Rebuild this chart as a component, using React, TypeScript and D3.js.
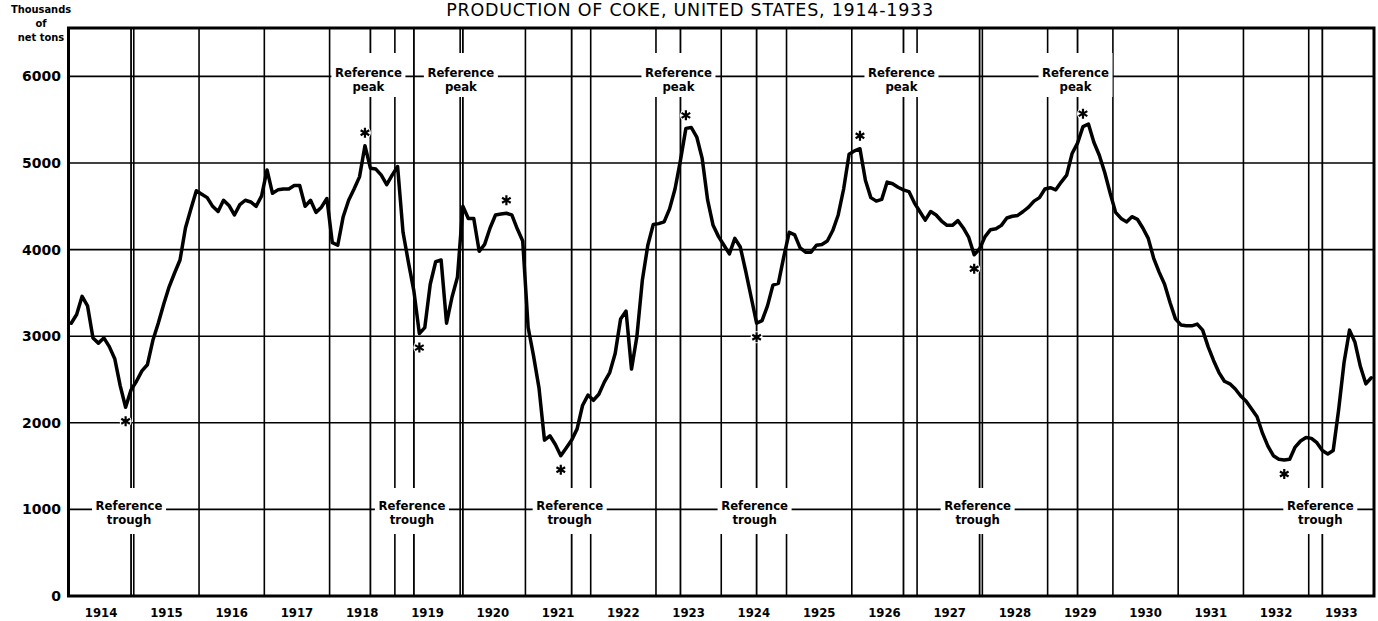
import React from "react";
import * as d3 from "d3";

// ---------- data ----------
const title = "PRODUCTION OF COKE, UNITED STATES, 1914-1933";
const yAxisTitle = ["Thousands", "of", "net tons"];
const yearLabels = d3.range(1914, 1934);
const yTickValues = [0, 1000, 2000, 3000, 4000, 5000, 6000];

// monthly production, thousands of net tons
const production1914to1918 = [
  3150, 3250, 3460, 3350, 2980, 2920, 2980, 2880, 2740, 2430, 2180, 2380,
  2480, 2600, 2670, 2950, 3150, 3370, 3570, 3730, 3880, 4250, 4470, 4680,
  4640, 4600, 4500, 4440, 4570, 4510, 4400, 4520, 4570, 4550, 4500, 4620,
  4920, 4650, 4690, 4700, 4700, 4740, 4740, 4500, 4570, 4430, 4490, 4590,
  4080, 4050, 4380, 4570, 4700, 4840, 5200, 4940, 4930, 4860, 4750, 4860,
];
const production1919to1923 = [
  4960, 4200, 3850, 3520, 3030, 3100, 3600, 3860, 3880, 3150, 3450, 3680,
  4500, 4360, 4360, 3980, 4060, 4250, 4400, 4410, 4420, 4400, 4240, 4100,
  3100, 2770, 2400, 1800, 1850, 1750, 1620, 1710, 1800, 1930, 2200, 2320,
  2260, 2330, 2470, 2580, 2800, 3200, 3290, 2620, 3000, 3650, 4050, 4290,
  4300, 4320, 4470, 4700, 5030, 5400, 5410, 5300, 5050, 4570, 4280, 4150,
];
const production1924to1928 = [
  4050, 3950, 4130, 4030, 3750, 3450, 3150, 3180, 3350, 3590, 3610, 3920,
  4200, 4170, 4020, 3970, 3970, 4050, 4060, 4100, 4220, 4400, 4700, 5100,
  5140, 5165, 4800, 4600, 4560, 4580, 4780, 4760, 4720, 4690, 4670, 4540,
  4440, 4340, 4440, 4400, 4330, 4280, 4280, 4335, 4250, 4140, 3940, 4010,
  4150, 4230, 4240, 4280, 4365, 4385, 4395, 4440, 4490, 4560, 4600, 4700,
];
const production1929to1933 = [
  4715, 4690, 4780, 4860, 5110, 5230, 5420, 5450, 5240, 5090, 4890, 4650,
  4430, 4360, 4320, 4380, 4350, 4250, 4130, 3900, 3740, 3600, 3390, 3200,
  3130, 3120, 3120, 3140, 3070, 2880, 2720, 2580, 2480, 2450, 2390, 2310,
  2250, 2160, 2070, 1880, 1730, 1620, 1580, 1570, 1580, 1720, 1790, 1830,
  1820, 1770, 1680, 1640, 1680, 2150, 2700, 3070, 2930, 2650, 2450, 2520,
];

// reference (business-cycle) turning points, [year, month]
const referencePeaks: [number, number][] = [[1918, 8], [1920, 1], [1923, 5], [1926, 10], [1929, 6]];
const referenceTroughs: [number, number][] = [[1914, 12], [1919, 4], [1921, 9], [1924, 7], [1927, 12], [1933, 3]];
// specific-cycle turning points of the series (asterisks)
const specificPeaks: [number, number][] = [[1918, 7], [1920, 9], [1923, 6], [1926, 2], [1929, 7]];
const specificTroughs: [number, number][] = [[1914, 11], [1919, 5], [1921, 7], [1924, 7], [1927, 11], [1932, 8]];

const peakLabel = ["Reference", "peak"];
const troughLabel = ["Reference", "trough"];

// ---------- layout ----------
const W = 1378, H = 621;
const L = 68.5, R = 1374, T = 28, B = 596;
const condensed = "'DejaVu Sans Condensed', 'DejaVu Sans', sans-serif";

const allValues = [
  ...production1914to1918, ...production1919to1923,
  ...production1924to1928, ...production1929to1933,
];
const series = allValues.map((v, i) => ({ t: 1914 + (i + 0.5) / 12, v }));
const valueAt = (yr: number, m: number) => allValues[(yr - 1914) * 12 + (m - 1)];

export default function App() {
  const x = d3.scaleLinear().domain([1914, 1934]).range([L, R]);
  const y = d3.scaleLinear().domain([0, 6559]).range([B, T]);
  const tOf = (yr: number, m: number) => yr + (m - 0.5) / 12;

  const line = d3.line<{ t: number; v: number }>()
    .x((d) => x(d.t))
    .y((d) => y(d.v))
    .curve(d3.curveLinear);

  const boxW = 74;
  const asterisk = (cx: number, cy: number, key: string) => {
    const r = 5;
    const spokes = [90, 30, 150].map((a) => {
      const rad = (a * Math.PI) / 180;
      return `M${cx - r * Math.cos(rad)},${cy - r * Math.sin(rad)}L${cx + r * Math.cos(rad)},${cy + r * Math.sin(rad)}`;
    });
    return (
      <g key={key}>
        <circle cx={cx} cy={cy} r={6} fill="#fff" />
        <path d={spokes.join("")} stroke="#000" strokeWidth={2.2} strokeLinecap="butt" />
      </g>
    );
  };

  return (
    <svg width={W} height={H} style={{ position: "absolute", left: 0, top: 0, background: "#fff" }}>
      <rect x={0} y={0} width={W} height={H} fill="#fff" />
      {/* title */}
      <text x={690} y={15.5} textAnchor="middle" fontFamily="'DejaVu Sans', sans-serif" fontSize={17.5} letterSpacing={0.75} fill="#000">
        {title}
      </text>
      {/* y-axis title */}
      {yAxisTitle.map((s, i) => (
        <text key={s} x={41} y={13 + i * 14} textAnchor="middle" fontFamily={condensed} fontWeight="bold" fontSize={11} fill="#000">
          {s}
        </text>
      ))}
      {/* horizontal gridlines */}
      {yTickValues.filter((v) => v > 0).map((v) => (
        <line key={"h" + v} x1={L} x2={R} y1={y(v)} y2={y(v)} stroke="#000" strokeWidth={1.6} />
      ))}
      {/* year boundaries */}
      {yearLabels.slice(1).map((yr) => (
        <line key={"v" + yr} x1={x(yr)} x2={x(yr)} y1={T} y2={B} stroke="#000" strokeWidth={1.6} />
      ))}
      {/* reference lines */}
      {[...referencePeaks, ...referenceTroughs].map(([yr, m]) => (
        <line key={"r" + yr + m} x1={x(tOf(yr, m))} x2={x(tOf(yr, m))} y1={T} y2={B} stroke="#000" strokeWidth={1.8} />
      ))}
      {/* reference labels */}
      {referencePeaks.map(([yr, m]) => {
        const cx = x(tOf(yr, m)) - 2;
        const by = y(6000) + 1;
        return (
          <g key={"pl" + yr}>
            <rect x={cx - boxW / 2} y={53} width={boxW} height={44} fill="#fff" />
            <text x={cx} y={by} textAnchor="middle" fontFamily={condensed} fontWeight="bold" fontSize={13} fill="#000">{peakLabel[0]}</text>
            <text x={cx} y={by + 14} textAnchor="middle" fontFamily={condensed} fontWeight="bold" fontSize={13} fill="#000">{peakLabel[1]}</text>
          </g>
        );
      })}
      {referenceTroughs.map(([yr, m]) => {
        const cx = x(tOf(yr, m)) - 2;
        const by = y(1000) + 1;
        return (
          <g key={"tl" + yr}>
            <rect x={cx - boxW / 2} y={488} width={boxW} height={46} fill="#fff" />
            <text x={cx} y={by} textAnchor="middle" fontFamily={condensed} fontWeight="bold" fontSize={13} fill="#000">{troughLabel[0]}</text>
            <text x={cx} y={by + 14} textAnchor="middle" fontFamily={condensed} fontWeight="bold" fontSize={13} fill="#000">{troughLabel[1]}</text>
          </g>
        );
      })}
      {/* data line */}
      <path d={line(series) || ""} fill="none" stroke="#000" strokeWidth={3.5} strokeLinejoin="round" strokeLinecap="round" />
      {/* asterisks */}
      {specificPeaks.map(([yr, m]) => asterisk(x(tOf(yr, m)), y(valueAt(yr, m)) - 13, "sp" + yr))}
      {specificTroughs.map(([yr, m]) => asterisk(x(tOf(yr, m)), y(valueAt(yr, m)) + 14, "st" + yr))}
      {/* frame */}
      <rect x={L} y={T} width={R - L} height={B - T} fill="none" stroke="#000" strokeWidth={3} />
      {/* y tick labels */}
      {yTickValues.map((v) => (
        <text key={"yt" + v} x={61} y={y(v) + 5} textAnchor="end" fontFamily="'DejaVu Sans', sans-serif" fontWeight="bold" fontSize={14} fill="#000">
          {v}
        </text>
      ))}
      {/* x labels */}
      {yearLabels.map((yr) => (
        <text key={"xl" + yr} x={x(yr + 0.5)} y={617} textAnchor="middle" fontFamily={condensed} fontWeight="bold" fontSize={13} fill="#000">
          {yr}
        </text>
      ))}
    </svg>
  );
}
